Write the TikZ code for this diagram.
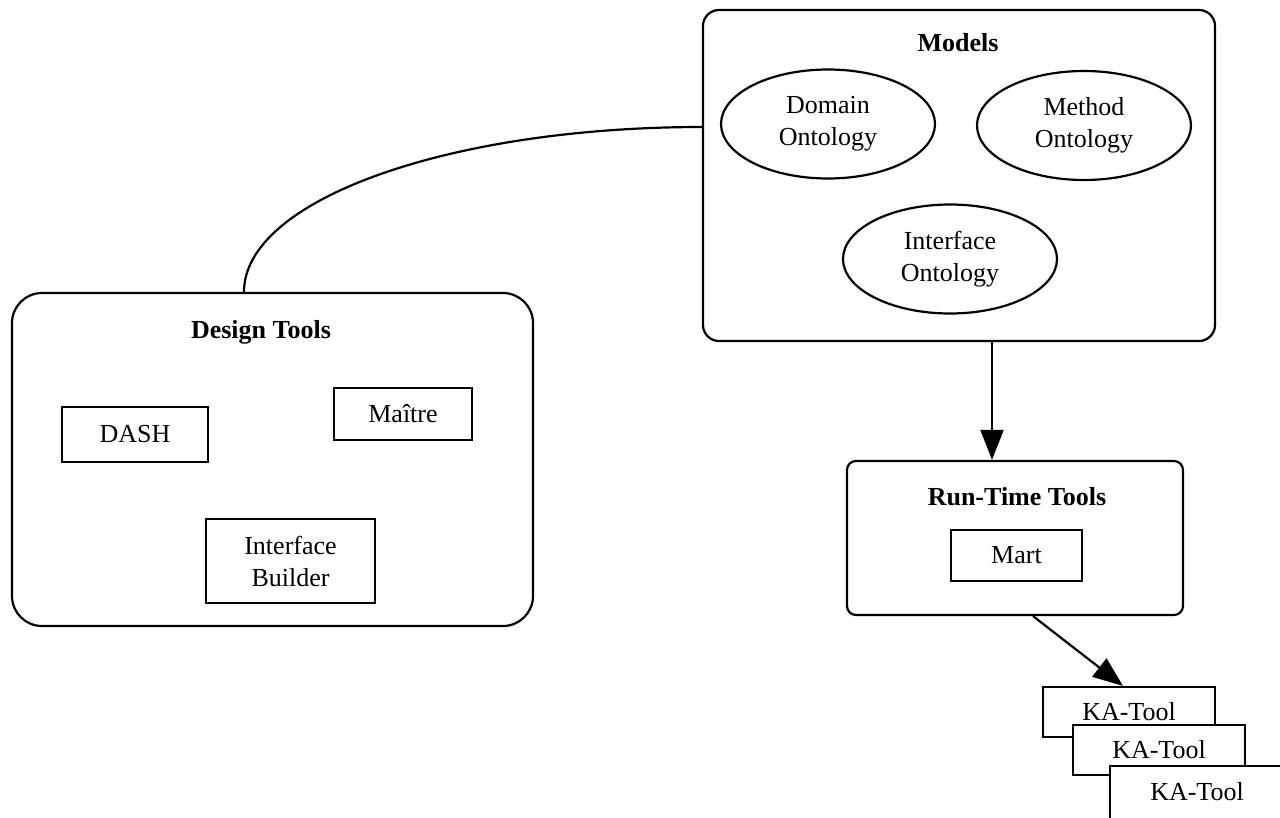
\documentclass[tikz,border=0pt]{standalone}
\usepackage{fontspec}
\setmainfont{Liberation Serif}
\usetikzlibrary{shapes.geometric,arrows.meta}
\begin{document}
\begin{tikzpicture}[x=1pt,y=-1pt,
  every node/.style={font=\fontsize{26}{32}\selectfont, inner sep=0pt, line width=2.2pt},
  group/.style={draw, rectangle},
  tool/.style={draw, rectangle, fill=white, align=center},
  onto/.style={draw, ellipse, align=center, minimum width=214pt, minimum height=109pt},
  ttl/.style={font=\fontsize{26}{32}\selectfont\bfseries},
  conn/.style={line width=2.2pt},
  arr/.style={conn, -{Triangle[length=30pt,width=23pt]}}
]
\useasboundingbox (0,0) rectangle (1280,817);

% Models
\node[group, rounded corners=16pt, minimum width=512pt, minimum height=331pt] (models) at (959,175.5) {};
\node[ttl] (modelsT) at (958,43) {Models};
\node[onto] (dom) at (828,124) {Domain\\Ontology};
\node[onto] (meth) at (1084,125.5) {Method\\Ontology};
\node[onto] (intf) at (950,259) {Interface\\Ontology};

% Design Tools
\node[group, rounded corners=30pt, minimum width=521pt, minimum height=333pt] (design) at (272.5,459.5) {};
\node[ttl] (designT) at (261,332) {Design Tools};
\node[tool, minimum width=146pt, minimum height=55pt] (dash) at (135,434.5) {DASH};
\node[tool, minimum width=138pt, minimum height=52pt] (maitre) at (403,414) {Maître};
\node[tool, minimum width=169pt, minimum height=84pt] (ib) at (290.5,561) {Interface\\Builder};

% Run-Time Tools
\node[group, rounded corners=9pt, minimum width=336pt, minimum height=154pt] (rt) at (1015,538) {};
\node[ttl] (rtT) at (1017,497) {Run-Time Tools};
\node[tool, minimum width=131pt, minimum height=51pt] (mart) at (1016.5,555.5) {Mart};

% KA-Tools
\node[tool, minimum width=172pt, minimum height=50pt] (ka1) at (1129,712) {KA-Tool};
\node[tool, minimum width=172pt, minimum height=50pt] (ka2) at (1159,750) {KA-Tool};
\node[tool, draw=none, minimum width=172pt, minimum height=50pt] (ka3) at (1197,792) {KA-Tool};
\draw[conn] ([yshift=-20pt]ka3.south west) -- (ka3.north west) -- ([xshift=20pt]ka3.north east);

% connectors
\coordinate (cA) at (244,0);
\coordinate (cB) at (0,127);
\draw[conn] (design.north -| cA) .. controls +(0,-92) and +(-253,0) .. (models.west |- cB);

\coordinate (a1) at (992,0);
\draw[arr] (models.south -| a1) -- (rt.north -| a1);

\coordinate (a2s) at (1033,0);
\coordinate (a2e) at (1123,0);
\draw[arr] (rt.south -| a2s) -- (ka1.north -| a2e);
\end{tikzpicture}
\end{document}
